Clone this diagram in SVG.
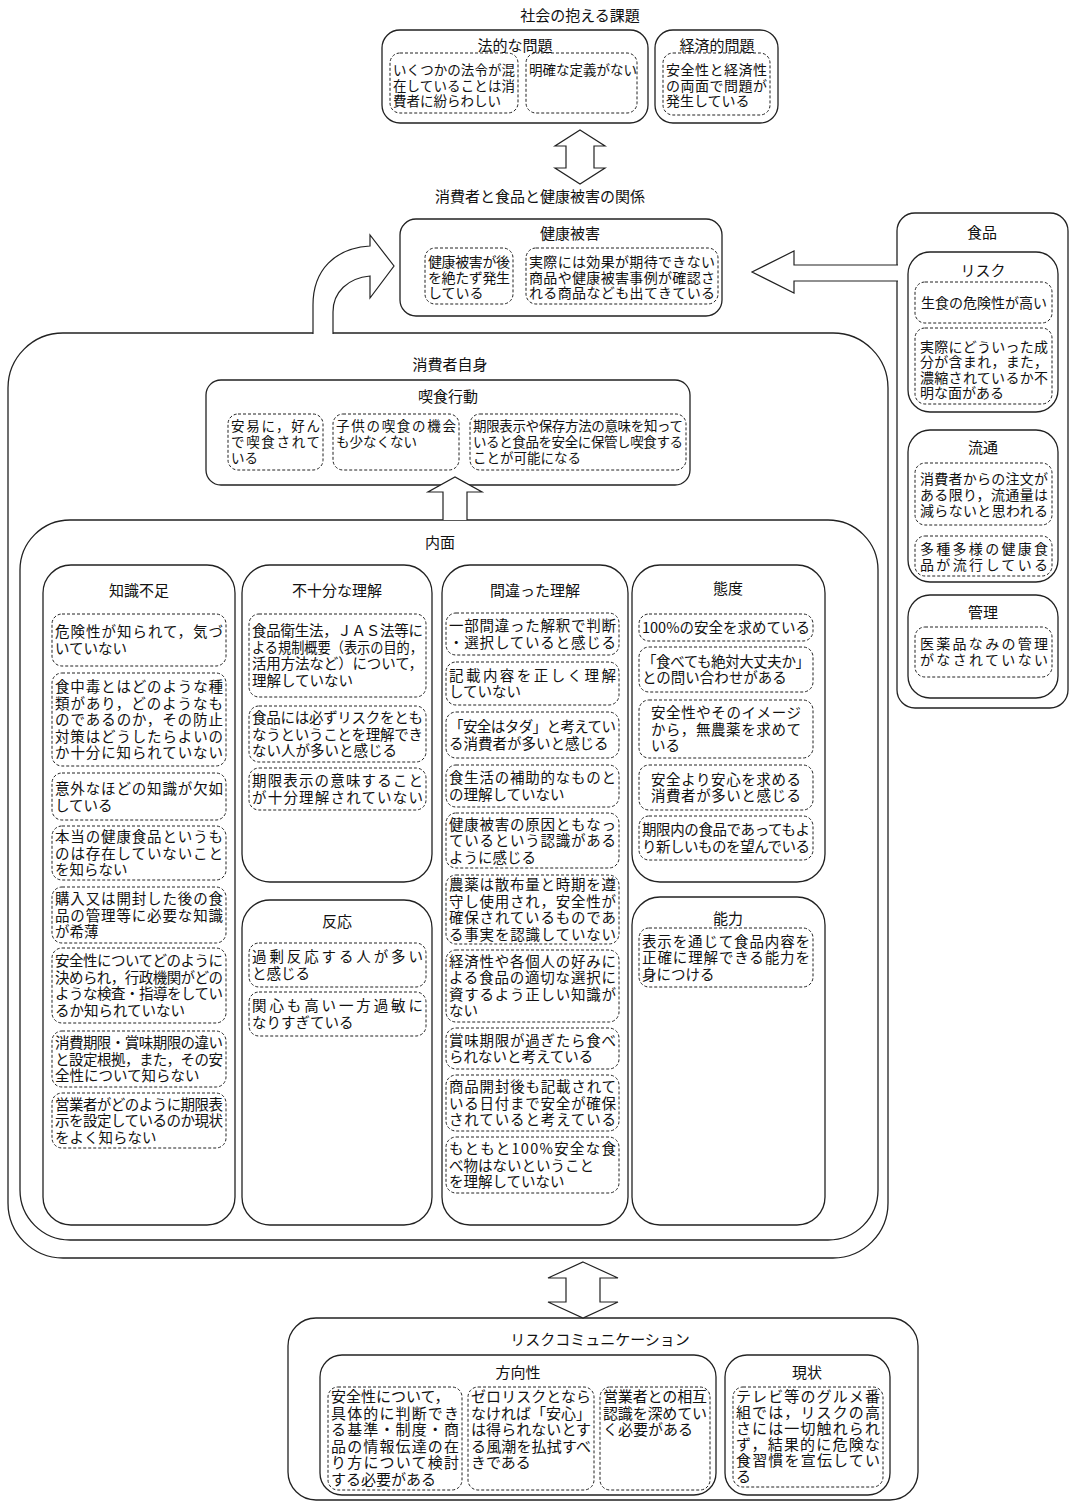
<svg xmlns="http://www.w3.org/2000/svg" width="1074" height="1510" viewBox="0 0 1074 1510">
<style>
.solid{fill:#fff;stroke:#222;stroke-width:1.3}
.dash{fill:none;stroke:#222;stroke-width:1;stroke-dasharray:3 2}
.arrow{fill:#fff;stroke:#222;stroke-width:1.2}
text{font-family:"Noto Sans CJK JP","Noto Sans CJK SC",sans-serif;fill:#111}
.h{font-size:15px;text-anchor:middle}
.b{font-size:14.5px}
.s{font-size:13.5px}
.f{font-size:14px}
.r{font-size:15px}
</style>
<rect width="1074" height="1510" fill="#fff"/>

<g id="society">
<text class="h" x="580" y="21">社会の抱える課題</text>
<g id="legal">
<rect class="solid" x="382" y="30" width="266" height="93" rx="18"/>
<text class="h" x="515" y="51">法的な問題</text>
<rect class="dash" x="390" y="53" width="128" height="60" rx="10"/>
<text class="s" x="393" y="75" textLength="122">いくつかの法令が混</text>
<text class="s" x="393" y="90.5" textLength="122">在していることは消</text>
<text class="s" x="393" y="106">費者に紛らわしい</text>
<rect class="dash" x="526" y="53" width="111" height="60" rx="10"/>
<text class="s" x="529" y="75">明確な定義がない</text>
</g>
<g id="economic">
<rect class="solid" x="655" y="30" width="123" height="93" rx="18"/>
<text class="h" x="717" y="51">経済的問題</text>
<rect class="dash" x="663" y="53" width="107" height="62" rx="10"/>
<text class="f" x="666" y="75" textLength="101">安全性と経済性</text>
<text class="f" x="666" y="91" textLength="101">の両面で問題が</text>
<text class="f" x="666" y="106">発生している</text>
</g>
</g>

<g id="relation">
<text class="h" x="540" y="202">消費者と食品と健康被害の関係</text>
<g id="health">
<rect class="solid" x="400" y="219" width="322" height="97" rx="16"/>
<text class="h" x="570" y="239">健康被害</text>
<rect class="dash" x="425" y="248" width="88" height="56" rx="10"/>
<text class="f" x="428" y="266.5" textLength="82">健康被害が後</text>
<text class="f" x="428" y="282.5" textLength="82">を絶たず発生</text>
<text class="f" x="428" y="298">している</text>
<rect class="dash" x="526" y="248" width="192" height="56" rx="10"/>
<text class="f" x="529" y="266.5" textLength="186">実際には効果が期待できない</text>
<text class="f" x="529" y="282.5" textLength="186">商品や健康被害事例が確認さ</text>
<text class="f" x="529" y="298" textLength="186">れる商品なども出てきている</text>
</g>
</g>

<g id="food">
<rect class="solid" x="897" y="213" width="171" height="495" rx="18"/>
<text class="h" x="982" y="238">食品</text>
<g id="food-risk">
<rect class="solid" x="908" y="252" width="150" height="160" rx="22"/>
<text class="h" x="983" y="276">リスク</text>
<rect class="dash" x="915" y="282" width="137" height="41" rx="10"/>
<text class="f" x="921" y="308">生食の危険性が高い</text>
<rect class="dash" x="915" y="328" width="137" height="76" rx="10"/>
<text class="f" x="920" y="351.5" textLength="128">実際にどういった成</text>
<text class="f" x="920" y="367" textLength="128">分が含まれ，また，</text>
<text class="f" x="920" y="382.5" textLength="128">濃縮されているか不</text>
<text class="f" x="920" y="398">明な面がある</text>
</g>
<g id="food-dist">
<rect class="solid" x="908" y="430" width="150" height="152" rx="22"/>
<text class="h" x="983" y="453">流通</text>
<rect class="dash" x="915" y="463" width="137" height="62" rx="10"/>
<text class="f" x="920" y="483.5" textLength="128">消費者からの注文が</text>
<text class="f" x="920" y="499.5" textLength="128">ある限り，流通量は</text>
<text class="f" x="920" y="515.5" textLength="128">減らないと思われる</text>
<rect class="dash" x="915" y="536" width="137" height="40" rx="10"/>
<text class="f" x="920" y="553.5" textLength="128">多種多様の健康食</text>
<text class="f" x="920" y="569.5" textLength="128">品が流行している</text>
</g>
<g id="food-mgmt">
<rect class="solid" x="908" y="595" width="150" height="103" rx="22"/>
<text class="h" x="983" y="618">管理</text>
<rect class="dash" x="915" y="627" width="137" height="50" rx="10"/>
<text class="f" x="920" y="648.5" textLength="128">医薬品なみの管理</text>
<text class="f" x="920" y="664.5" textLength="128">がなされていない</text>
</g>
</g>

<g id="consumer">
<rect class="solid" x="8" y="333" width="880" height="925" rx="55"/>
<text class="h" x="450" y="370">消費者自身</text>
<g id="eating">
<rect class="solid" x="206" y="380" width="484" height="105" rx="15"/>
<text class="h" x="448" y="402">喫食行動</text>
<rect class="dash" x="228" y="414" width="95" height="56" rx="10"/>
<text class="s" x="231" y="431" textLength="89">安易に，好ん</text>
<text class="s" x="231" y="447" textLength="89">で喫食されて</text>
<text class="s" x="231" y="463">いる</text>
<rect class="dash" x="333" y="414" width="126" height="56" rx="10"/>
<text class="s" x="336" y="431" textLength="120">子供の喫食の機会</text>
<text class="s" x="336" y="447">も少なくない</text>
<rect class="dash" x="470" y="414" width="216" height="56" rx="10"/>
<text class="s" x="473" y="431" textLength="210">期限表示や保存方法の意味を知って</text>
<text class="s" x="473" y="447" textLength="210">いると食品を安全に保管し喫食する</text>
<text class="s" x="473" y="463">ことが可能になる</text>
</g>
<g id="inner">
<rect class="solid" x="20" y="520" width="858" height="720" rx="50"/>
<text class="h" x="440" y="548">内面</text>
</g>
<g id="knowledge">
<rect class="solid" x="43" y="565" width="192" height="660" rx="28"/>
<text class="h" x="139" y="596">知識不足</text>
<rect class="dash" x="52" y="614" width="174" height="52" rx="10"/>
<text class="b" x="55" y="637" textLength="168">危険性が知られて，気づ</text>
<text class="b" x="55" y="653.5">いていない</text>
<rect class="dash" x="52" y="673" width="174" height="93" rx="10"/>
<text class="b" x="55" y="692" textLength="168">食中毒とはどのような種</text>
<text class="b" x="55" y="708.5" textLength="168">類があり，どのようなも</text>
<text class="b" x="55" y="725" textLength="168">のであるのか，その防止</text>
<text class="b" x="55" y="741.5" textLength="168">対策はどうしたらよいの</text>
<text class="b" x="55" y="758" textLength="168">か十分に知られていない</text>
<rect class="dash" x="52" y="773" width="174" height="47" rx="10"/>
<text class="b" x="55" y="794" textLength="168">意外なほどの知識が欠如</text>
<text class="b" x="55" y="810.5">している</text>
<rect class="dash" x="52" y="826" width="174" height="54" rx="10"/>
<text class="b" x="55" y="842" textLength="168">本当の健康食品というも</text>
<text class="b" x="55" y="858.5" textLength="168">のは存在していないこと</text>
<text class="b" x="55" y="875">を知らない</text>
<rect class="dash" x="52" y="887" width="174" height="56" rx="10"/>
<text class="b" x="55" y="904" textLength="168">購入又は開封した後の食</text>
<text class="b" x="55" y="920.5" textLength="168">品の管理等に必要な知識</text>
<text class="b" x="55" y="937">が希薄</text>
<rect class="dash" x="52" y="948" width="174" height="75" rx="10"/>
<text class="b" x="55" y="966" textLength="168">安全性についてどのように</text>
<text class="b" x="55" y="982.5" textLength="168">決められ，行政機関がどの</text>
<text class="b" x="55" y="999" textLength="168">ような検査・指導をしてい</text>
<text class="b" x="55" y="1015.5">るか知られていない</text>
<rect class="dash" x="52" y="1031" width="174" height="56" rx="10"/>
<text class="b" x="55" y="1048" textLength="168">消費期限・賞味期限の違い</text>
<text class="b" x="55" y="1064.5" textLength="168">と設定根拠，また，その安</text>
<text class="b" x="55" y="1081">全性について知らない</text>
<rect class="dash" x="52" y="1093" width="174" height="55" rx="10"/>
<text class="b" x="55" y="1109.5" textLength="168">営業者がどのように期限表</text>
<text class="b" x="55" y="1126" textLength="168">示を設定しているのか現状</text>
<text class="b" x="55" y="1142.5">をよく知らない</text>
</g>
<g id="insufficient">
<rect class="solid" x="242" y="565" width="190" height="317" rx="28"/>
<text class="h" x="337" y="596">不十分な理解</text>
<rect class="dash" x="249" y="614" width="177" height="83" rx="10"/>
<text class="b" x="252" y="636" textLength="171">食品衛生法，ＪＡＳ法等に</text>
<text class="b" x="252" y="652.5" textLength="171" lengthAdjust="spacingAndGlyphs">よる規制概要（表示の目的，</text>
<text class="b" x="252" y="669" textLength="171">活用方法など）について，</text>
<text class="b" x="252" y="685.5">理解していない</text>
<rect class="dash" x="249" y="706" width="177" height="56" rx="10"/>
<text class="b" x="252" y="723" textLength="171">食品には必ずリスクをとも</text>
<text class="b" x="252" y="739.5" textLength="171">なうということを理解でき</text>
<text class="b" x="252" y="756">ない人が多いと感じる</text>
<rect class="dash" x="249" y="768" width="177" height="42" rx="10"/>
<text class="b" x="252" y="786.25" textLength="171">期限表示の意味すること</text>
<text class="b" x="252" y="802.75" textLength="171">が十分理解されていない</text>
</g>
<g id="reaction">
<rect class="solid" x="242" y="900" width="190" height="325" rx="28"/>
<text class="h" x="337" y="927">反応</text>
<rect class="dash" x="249" y="943" width="177" height="44" rx="10"/>
<text class="b" x="252" y="962.25" textLength="171">過剰反応する人が多い</text>
<text class="b" x="252" y="978.75">と感じる</text>
<rect class="dash" x="249" y="992" width="177" height="44" rx="10"/>
<text class="b" x="252" y="1011.25" textLength="171">関心も高い一方過敏に</text>
<text class="b" x="252" y="1027.75">なりすぎている</text>
</g>
<g id="mistaken">
<rect class="solid" x="442" y="565" width="186" height="660" rx="28"/>
<text class="h" x="535" y="596">間違った理解</text>
<rect class="dash" x="446" y="613" width="173" height="42" rx="10"/>
<text class="b" x="449" y="631.25" textLength="167">一部間違った解釈で判断</text>
<text class="b" x="449" y="647.75" textLength="167">・選択していると感じる</text>
<rect class="dash" x="446" y="662" width="173" height="43" rx="10"/>
<text class="b" x="449" y="680.75" textLength="167">記載内容を正しく理解</text>
<text class="b" x="449" y="697.25">していない</text>
<rect class="dash" x="446" y="712" width="173" height="46" rx="10"/>
<text class="b" x="449" y="732.25" textLength="167">「安全はタダ」と考えてい</text>
<text class="b" x="449" y="748.75">る消費者が多いと感じる</text>
<rect class="dash" x="446" y="765" width="173" height="42" rx="10"/>
<text class="b" x="449" y="783.25" textLength="167">食生活の補助的なものと</text>
<text class="b" x="449" y="799.75">の理解していない</text>
<rect class="dash" x="446" y="813" width="173" height="55" rx="10"/>
<text class="b" x="449" y="829.5" textLength="167">健康被害の原因ともなっ</text>
<text class="b" x="449" y="846" textLength="167">ているという認識がある</text>
<text class="b" x="449" y="862.5">ように感じる</text>
<rect class="dash" x="446" y="875" width="173" height="69" rx="10"/>
<text class="b" x="449" y="890.25" textLength="167">農薬は散布量と時期を遵</text>
<text class="b" x="449" y="906.75" textLength="167">守し使用され，安全性が</text>
<text class="b" x="449" y="923.25" textLength="167">確保されているものであ</text>
<text class="b" x="449" y="939.75" textLength="167">る事実を認識していない</text>
<rect class="dash" x="446" y="950" width="173" height="72" rx="10"/>
<text class="b" x="449" y="966.75" textLength="167">経済性や各個人の好みに</text>
<text class="b" x="449" y="983.25" textLength="167">よる食品の適切な選択に</text>
<text class="b" x="449" y="999.75" textLength="167">資するよう正しい知識が</text>
<text class="b" x="449" y="1016.25">ない</text>
<rect class="dash" x="446" y="1028" width="173" height="41" rx="10"/>
<text class="b" x="449" y="1045.75" textLength="167">賞味期限が過ぎたら食べ</text>
<text class="b" x="449" y="1062.25">られないと考えている</text>
<rect class="dash" x="446" y="1075" width="173" height="56" rx="10"/>
<text class="b" x="449" y="1092" textLength="167">商品開封後も記載されて</text>
<text class="b" x="449" y="1108.5" textLength="167">いる日付まで安全が確保</text>
<text class="b" x="449" y="1125" textLength="167">されていると考えている</text>
<rect class="dash" x="446" y="1137" width="173" height="56" rx="10"/>
<text class="b" x="449" y="1154" textLength="167">もともと100%安全な食</text>
<text class="b" x="449" y="1170.5">べ物はないということ</text>
<text class="b" x="449" y="1187">を理解していない</text>
</g>
<g id="attitude">
<rect class="solid" x="632" y="565" width="193" height="317" rx="28"/>
<text class="h" x="728" y="594">態度</text>
<rect class="dash" x="639" y="614" width="174" height="27" rx="10"/>
<text class="b" x="642" y="633" textLength="168">100%の安全を求めている</text>
<rect class="dash" x="639" y="647" width="174" height="45" rx="10"/>
<text class="b" x="642" y="666.75" textLength="168">「食べても絶対大丈夫か」</text>
<text class="b" x="642" y="683.25">との問い合わせがある</text>
<rect class="dash" x="639" y="700" width="174" height="58" rx="10"/>
<text class="b" x="651" y="718" textLength="150">安全性やそのイメージ</text>
<text class="b" x="651" y="734.5" textLength="150">から，無農薬を求めて</text>
<text class="b" x="651" y="751">いる</text>
<rect class="dash" x="639" y="765" width="174" height="45" rx="10"/>
<text class="b" x="651" y="784.75" textLength="150">安全より安心を求める</text>
<text class="b" x="651" y="801.25" textLength="150">消費者が多いと感じる</text>
<rect class="dash" x="639" y="816" width="174" height="44" rx="10"/>
<text class="b" x="642" y="835.25" textLength="168">期限内の食品であってもよ</text>
<text class="b" x="642" y="851.75" textLength="168">り新しいものを望んでいる</text>
</g>
<g id="ability">
<rect class="solid" x="632" y="897" width="193" height="328" rx="28"/>
<text class="h" x="728" y="924">能力</text>
<rect class="dash" x="639" y="928" width="174" height="59" rx="10"/>
<text class="b" x="642" y="946.5" textLength="168">表示を通じて食品内容を</text>
<text class="b" x="642" y="963" textLength="168">正確に理解できる能力を</text>
<text class="b" x="642" y="979.5">身につける</text>
</g>
</g>

<g id="riskcomm">
<rect class="solid" x="288" y="1318" width="630" height="182" rx="28"/>
<text class="h" x="600" y="1345">リスクコミュニケーション</text>
<g id="direction">
<rect class="solid" x="320" y="1355" width="396" height="140" rx="22"/>
<text class="h" x="518" y="1378">方向性</text>
<rect class="dash" x="328" y="1387" width="134" height="103" rx="10"/>
<text class="r" x="331" y="1402">安全性について，</text>
<text class="r" x="331" y="1418.5" textLength="128">具体的に判断でき</text>
<text class="r" x="331" y="1435" textLength="128">る基準・制度・商</text>
<text class="r" x="331" y="1451.5" textLength="128">品の情報伝達の在</text>
<text class="r" x="331" y="1468" textLength="128">り方について検討</text>
<text class="r" x="331" y="1484.5">する必要がある</text>
<rect class="dash" x="468" y="1387" width="126" height="103" rx="10"/>
<text class="r" x="471" y="1402" textLength="120">ゼロリスクとなら</text>
<text class="r" x="471" y="1418.5" textLength="120">なければ「安心」</text>
<text class="r" x="471" y="1435" textLength="120">は得られないとす</text>
<text class="r" x="471" y="1451.5" textLength="120">る風潮を払拭すべ</text>
<text class="r" x="471" y="1468">きである</text>
<rect class="dash" x="600" y="1387" width="110" height="103" rx="10"/>
<text class="r" x="603" y="1402" textLength="104">営業者との相互</text>
<text class="r" x="603" y="1418.5" textLength="104">認識を深めてい</text>
<text class="r" x="603" y="1435">く必要がある</text>
</g>
<g id="current">
<rect class="solid" x="725" y="1355" width="165" height="140" rx="22"/>
<text class="h" x="807" y="1378">現状</text>
<rect class="dash" x="733" y="1387" width="150" height="100" rx="10"/>
<text class="r" x="736" y="1402" textLength="144">テレビ等のグルメ番</text>
<text class="r" x="736" y="1418" textLength="144">組では，リスクの高</text>
<text class="r" x="736" y="1434" textLength="144">さには一切触れられ</text>
<text class="r" x="736" y="1450" textLength="144">ず，結果的に危険な</text>
<text class="r" x="736" y="1466" textLength="144">食習慣を宣伝してい</text>
<text class="r" x="736" y="1482">る</text>
</g>
</g>

<g id="connectors">
<path class="arrow" d="M580,130 L605,146 L594,146 L594,168 L605,168 L580,184 L555,168 L566,168 L566,146 L555,146 Z"/>
<path class="arrow" d="M313,334 L313,305 C313,270 335,248 370,246 L370,235 L394,266 L370,298 L370,276 C348,278 333,292 333,312 L333,334"/>
<path class="arrow" d="M898,265 L794,265 L794,251 L752,272 L794,293 L794,281 L898,281"/>
<path class="arrow" d="M443,520 L443,492 L428,492 L455,477 L482,492 L467,492 L467,520"/>
<path class="arrow" d="M583,1262 L618,1278 L600,1278 L600,1302 L618,1302 L583,1318 L548,1302 L566,1302 L566,1278 L548,1278 Z"/>
</g>
</svg>
